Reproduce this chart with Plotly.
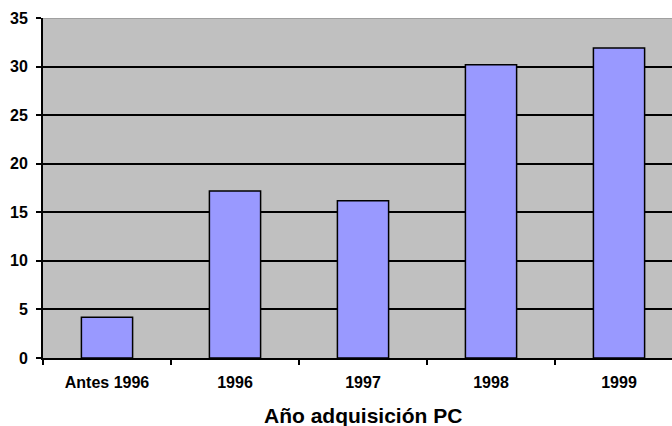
import plotly.graph_objects as go

categories = ["Antes 1996", "1996", "1997", "1998", "1999"]
values = [4.2, 17.2, 16.2, 30.2, 31.9]
y_ticks = [0, 5, 10, 15, 20, 25, 30, 35]
x_title = "Año adquisición PC"

fig = go.Figure()
fig.add_trace(go.Bar(
    x=categories, y=values,
    marker=dict(color="#9999ff", line=dict(color="black", width=1.5)),
    width=0.4,
))

fig.update_layout(
    width=672, height=426,
    margin=dict(l=43, r=0, t=18, b=68),
    paper_bgcolor="white",
    plot_bgcolor="#c0c0c0",
    showlegend=False,
    xaxis=dict(
        type="category",
        range=[-0.5, 4.414],
        automargin=False,
        showline=True, linecolor="black", linewidth=2,
        ticks="outside", tickson="boundaries", ticklen=5, tickcolor="black", tickwidth=1.5,
        showgrid=False,
        tickfont=dict(family="Liberation Sans", size=16, color="black", weight="bold"),
        ticklabelstandoff=9,
    ),
    yaxis=dict(
        range=[0, 35],
        tickvals=y_ticks,
        automargin=False,
        showline=True, linecolor="black", linewidth=2,
        ticks="outside", ticklen=5, tickcolor="black", tickwidth=1.5,
        showgrid=True, gridcolor="black", gridwidth=1.5,
        zeroline=False,
        tickfont=dict(family="Liberation Sans", size=16, color="black", weight="bold"),
        ticklabelstandoff=5,
    ),
    shapes=[dict(type="line", xref="paper", yref="y", x0=0, x1=1, y0=35, y1=35,
                 line=dict(color="#a0a0a0", width=2), layer="above")],
    annotations=[dict(text=x_title, xref="x", yref="paper", x=2, y=0,
                      yshift=-44, yanchor="top", showarrow=False,
                      font=dict(family="Liberation Sans", size=21, color="black", weight="bold"))],
)

fig.write_html("out.html", config={"displayModeBar": False},
               post_script="document.body.style.margin='0';document.body.style.overflow='hidden';")
